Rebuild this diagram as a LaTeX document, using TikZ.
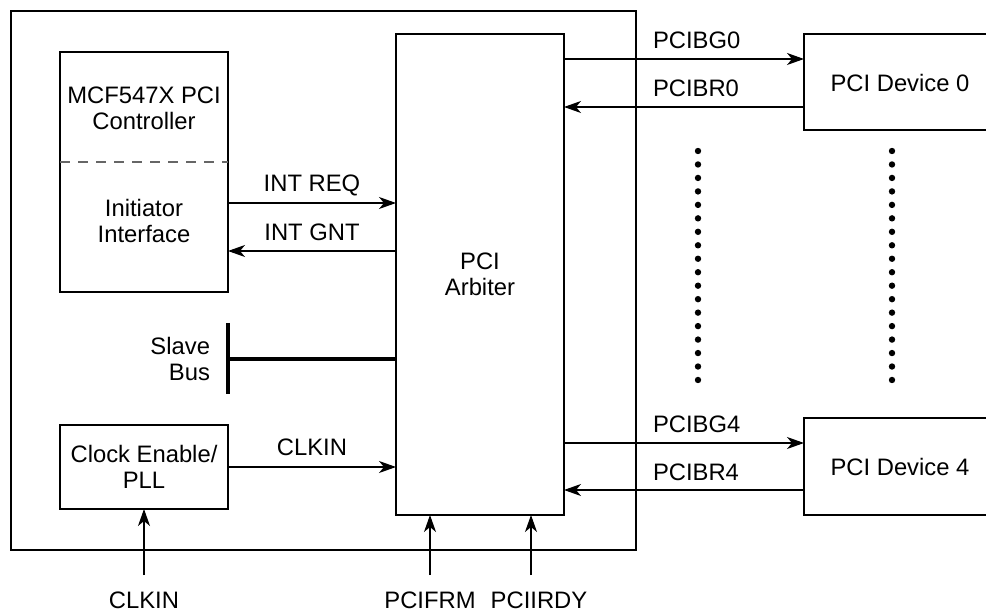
\documentclass[tikz,border=0pt]{standalone}
\usepackage{fontspec}
\setmainfont{Liberation Sans}
\usetikzlibrary{arrows.meta}
\begin{document}
\begin{tikzpicture}[x=1pt,y=-1pt,
  every node/.style={font=\fontsize{23.8}{26}\selectfont, inner sep=0pt, outer sep=0pt},
  box/.style={draw, line width=1.2pt, inner sep=0pt},
  conn/.style={line width=1.2pt, -{Stealth[length=17pt,width=12pt,inset=5pt]}},
  busline/.style={line width=3.5pt},
  divider/.style={line width=1.2pt, draw=black!60, dash pattern=on 10pt off 8pt},
  dotmark/.style={fill=black}]
\useasboundingbox (0,0) rectangle (986,612);
\clip (0,0) rectangle (986,612);
% boxes
\node[box, minimum width=625pt, minimum height=539pt] (outer) at (323.5,280.5) {};
\node[box, minimum width=168pt, minimum height=240pt] (ctrl) at (144,172) {};
\node[box, minimum width=168pt, minimum height=481pt, align=center] (arb) at (480,274.5) {PCI\\Arbiter};
\node[box, minimum width=168pt, minimum height=84pt, align=center] (clk) at (144,467) {Clock Enable/\\PLL};
\node[box, minimum width=206pt, minimum height=96pt] (dev0) at (907,82) {};
\node[box, minimum width=206pt, minimum height=97pt] (dev4) at (907,466.5) {};
% box texts
\node[align=center] (ctrlA) at (144,108) {MCF547X PCI\\Controller};
\node[align=center] (ctrlB) at (144,221) {Initiator\\Interface};
\node (dev0t) at (900,83) {PCI Device 0};
\node (dev4t) at (900,466.5) {PCI Device 4};
\draw[divider] (ctrl.west |- 0,162) -- (ctrl.east |- 0,162);
% internal connections
\draw[conn] (ctrl.east |- 0,203) -- (arb.west |- 0,203);
\draw[conn] (arb.west |- 0,251) -- (ctrl.east |- 0,251);
\draw[conn] (clk.east) -- (arb.west |- clk.east);
\node (lreq) at (312,185) {INT REQ};
\node (lgnt) at (312,232) {INT GNT};
\node (lclkin) at (312,447) {CLKIN};
% slave bus
\coordinate (sb) at (228,359);
\draw[busline] (arb.west |- sb) -- (sb);
\draw[busline] (228,323) -- (228,394);
\node[align=right, anchor=east] (slave) at (210,358.5) {Slave\\Bus};
% device connections
\draw[conn] (arb.east |- 0,59) -- (dev0.west |- 0,59);
\draw[conn] (dev0.west |- 0,107) -- (arb.east |- 0,107);
\draw[conn] (arb.east |- 0,443) -- (dev4.west |- 0,443);
\draw[conn] (dev4.west |- 0,490) -- (arb.east |- 0,490);
\node[anchor=west] (lbg0) at (653,40) {PCIBG0};
\node[anchor=west] (lbr0) at (653,88) {PCIBR0};
\node[anchor=west] (lbg4) at (653,424) {PCIBG4};
\node[anchor=west] (lbr4) at (653,472) {PCIBR4};
% dots
\foreach \i in {0,...,17} {
  \fill[dotmark] (698,151+\i*13.47) circle (3.2pt);
  \fill[dotmark] (892,151+\i*13.47) circle (3.2pt);
}
% external inputs
\coordinate (inclk) at (144,575);
\coordinate (infrm) at (430,575);
\coordinate (inirdy) at (531,575);
\draw[conn] (inclk) -- (clk.south);
\draw[conn] (infrm) -- (infrm |- arb.south);
\draw[conn] (inirdy) -- (inirdy |- arb.south);
\node (lclk) at (144,600) {CLKIN};
\node (lfrm) at (430,600) {PCIFRM};
\node (lirdy) at (539,600) {PCIIRDY};
\end{tikzpicture}
\end{document}
